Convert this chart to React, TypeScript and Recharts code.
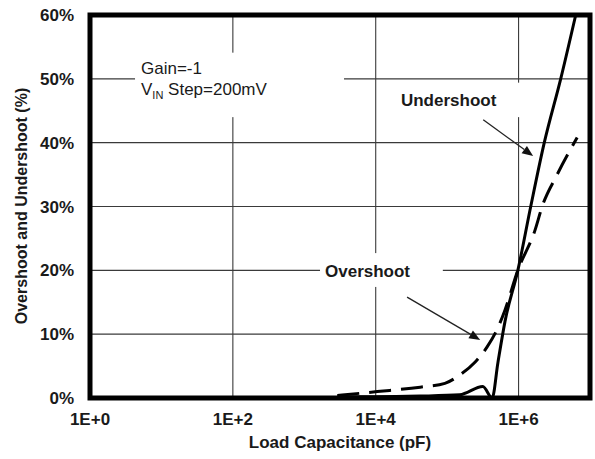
import { CartesianGrid, Line, LineChart, ReferenceArea, ReferenceLine, XAxis, YAxis } from 'recharts';

// load capacitance (pF) and percent
const UNDER_C = [2900, 10500, 42000, 150000, 316000, 427000, 513000, 646000, 977000, 1480000, 2290000, 3890000, 6310000];
const UNDER_V = [0.2, 0.2, 0.3, 0.5, 1.8, 0.0, 5.5, 12, 20, 30, 40, 50, 60];
const OVER_C = [2900, 10500, 42000, 93000, 150000, 245000, 363000, 513000, 646000, 977000, 1700000, 2140000, 3470000, 6610000];
const OVER_V = [0.4, 1.0, 1.7, 2.3, 3.6, 5.6, 8, 11, 13.8, 20, 26.3, 30, 35, 40.8];

const X_TICKS = [1, 100, 10000, 1000000];
const Y_TICKS = [0, 10, 20, 30, 40, 50, 60];

const under = UNDER_C.map((c, i) => ({ c, v: UNDER_V[i] }));
const over = OVER_C.map((c, i) => ({ c, v: OVER_V[i] }));

const FONT = 'Arial, "Liberation Sans", sans-serif';
const INK = '#1a1a1a';

const Arrow = (props: any) => {
    const { x1, y1, x2, y2 } = props;
    const a = Math.atan2(y2 - y1, x2 - x1);
    const len = 11;
    const w = 4.5;
    const bx = x2 - len * Math.cos(a);
    const by = y2 - len * Math.sin(a);
    const px = -Math.sin(a) * w;
    const py = Math.cos(a) * w;
    return (
        <g>
            <line x1={x1} y1={y1} x2={bx} y2={by} stroke="#222" strokeWidth={1.3} />
            <polygon points={`${x2},${y2} ${bx + px},${by + py} ${bx - px},${by - py}`} fill="#111" />
        </g>
    );
};

// white box that hides the grid behind a note, with the note drawn on top
const noteBox = (content: (x: number, y: number) => any) => (props: any) => {
    const { x, y, width, height } = props;
    return (
        <g>
            <rect x={x} y={y} width={width} height={height} fill="#fff" />
            {content(x, y)}
        </g>
    );
};

const gainNote = noteBox((x, y) => (
    <g fontFamily={FONT} fontSize={17} fill={INK}>
        <text x={x + 6} y={y + 21}>Gain=-1</text>
        <text x={x + 6} y={y + 42}>
            V<tspan fontSize={11} dy={4}>IN</tspan>
            <tspan dy={-4}> Step=200mV</tspan>
        </text>
    </g>
));

const underNote = noteBox((x, y) => (
    <text x={x + 6} y={y + 23} fontFamily={FONT} fontSize={17} fontWeight="bold" fill={INK}>Undershoot</text>
));

const overNote = noteBox((x, y) => (
    <text x={x + 5} y={y + 24} fontFamily={FONT} fontSize={17} fontWeight="bold" fill={INK}>Overshoot</text>
));

export default function App() {
    return (
        <div style={{ position: 'absolute', left: 0, top: 0, background: '#fff' }}>
            <LineChart width={595} height={459} margin={{ top: 15, right: 5, bottom: 0, left: 0 }}>
                <CartesianGrid stroke="#3a3a3a" strokeWidth={1.1} />
                <XAxis
                    dataKey="c"
                    type="number"
                    scale="log"
                    domain={[1, 10000000]}
                    ticks={X_TICKS}
                    allowDataOverflow
                    height={61}
                    axisLine={false}
                    tickLine={false}
                    tickSize={0}
                    tickMargin={15}
                    tick={{ fontSize: 17, fontWeight: 'bold', fill: INK, fontFamily: FONT }}
                    tickFormatter={(v) => `1E+${Math.round(Math.log10(v))}`}
                />
                <YAxis
                    type="number"
                    domain={[0, 60]}
                    ticks={Y_TICKS}
                    width={90}
                    axisLine={false}
                    tickLine={false}
                    tickSize={0}
                    tickMargin={16}
                    tick={{ fontSize: 17, fontWeight: 'bold', fill: INK, fontFamily: FONT }}
                    tickFormatter={(v) => `${v}%`}
                />

                <ReferenceArea x1={4.27} x2={3600} y1={44} y2={54.1} shape={gainNote} />
                <ReferenceArea x1={18600} x2={1230000} y1={44} y2={49.4} shape={underNote} />
                <ReferenceArea x1={1660} x2={87000} y1={17.4} y2={22.7} shape={overNote} />

                <Line data={over} dataKey="v" stroke="#000" strokeWidth={3} strokeDasharray="22 10" dot={false} type="monotone" isAnimationActive={false} />
                <Line data={under} dataKey="v" stroke="#000" strokeWidth={3} dot={false} type="monotone" isAnimationActive={false} />

                <ReferenceArea x1={1} x2={10000000} y1={0} y2={60} fill="none" stroke="#000" strokeWidth={5} />

                <ReferenceLine segment={[{ x: 320000, y: 43.6 }, { x: 1600000, y: 37.9 }]} shape={Arrow} />
                <ReferenceLine segment={[{ x: 27500, y: 15.8 }, { x: 290000, y: 9.1 }]} shape={Arrow} />

                <text x={340} y={448} fontSize={17} fontWeight="bold" fill={INK} fontFamily={FONT} textAnchor="middle">
                    Load Capacitance (pF)
                </text>
                <text transform="rotate(-90)" x={-206} y={27} fontSize={16} fontWeight="bold" fill={INK} fontFamily={FONT} textAnchor="middle">
                    Overshoot and Undershoot (%)
                </text>
            </LineChart>
        </div>
    );
}
